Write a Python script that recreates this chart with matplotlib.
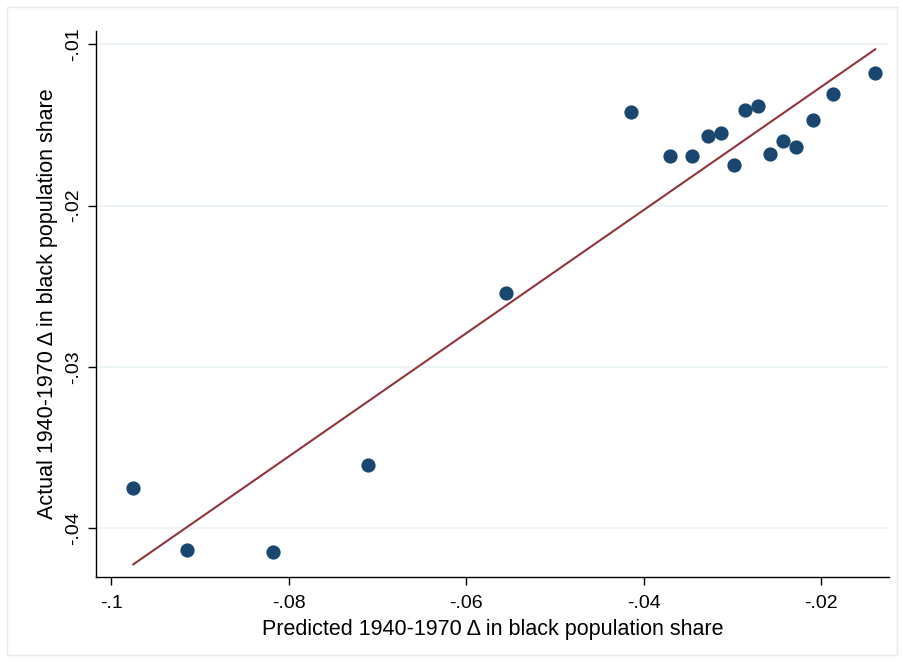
import numpy as np
import matplotlib
matplotlib.use("Agg")
import matplotlib.pyplot as plt
from matplotlib.patches import Rectangle

plt.rcParams['font.family'] = ['Liberation Sans', 'DejaVu Sans']

# predicted vs actual 1940-1970 change in black population share
predicted = [-0.0975, -0.0914, -0.0818, -0.0710, -0.0555, -0.0414, -0.0370, -0.0345,
             -0.0327, -0.0313, -0.0298, -0.0286, -0.0271, -0.0258, -0.0243, -0.0228,
             -0.0209, -0.0187, -0.0139]
actual = [-0.0375, -0.04135, -0.0415, -0.0361, -0.0254, -0.0142, -0.0169, -0.0169,
          -0.0157, -0.0155, -0.0175, -0.0141, -0.0138, -0.0168, -0.0160, -0.0164,
          -0.0147, -0.0131, -0.0118]

x_ticks = [-0.1, -0.08, -0.06, -0.04, -0.02]
x_labels = ["-.1", "-.08", "-.06", "-.04", "-.02"]
y_ticks = [-0.04, -0.03, -0.02, -0.01]
y_labels = ["-.04", "-.03", "-.02", "-.01"]

navy = "#1a476f"
maroon = "#90353b"

x = np.array(predicted)
y = np.array(actual)
slope, intercept = np.polyfit(x, y, 1)
xs = np.array([x.min(), x.max()])

fig = plt.figure(figsize=(9.04, 6.63), dpi=100)
ax = fig.add_axes([96/904, 1 - 576.7/663, (889 - 96)/904, (576.7 - 31)/663])

ax.scatter(x, y, s=105, color=navy, zorder=3, linewidths=0)
ax.plot(xs, intercept + slope * xs, color=maroon, lw=1.5, zorder=2)

ax.set_xlim(-0.1017, -0.01235)
ax.set_ylim(-0.0430, -0.00918)
ax.set_xticks(x_ticks)
ax.set_xticklabels(x_labels, fontsize=14)
ax.set_yticks(y_ticks)
ax.set_yticklabels(y_labels, fontsize=14, rotation=90, va="center")
ax.yaxis.grid(True, color="#eaf2f3", lw=1.2)
ax.set_axisbelow(True)
ax.tick_params(length=6, width=1, color="black")
ax.tick_params(axis="x", pad=7)
ax.tick_params(axis="y", pad=4)
for side in ["top", "right"]:
    ax.spines[side].set_visible(False)
ax.spines["left"].set_linewidth(1)
ax.spines["bottom"].set_linewidth(1)

ax.set_xlabel("Predicted 1940-1970 \u0394 in black population share", fontsize=15.5, labelpad=5)
ax.set_ylabel("Actual 1940-1970 \u0394 in black population share", fontsize=15.5, labelpad=5)

fig.patches.append(Rectangle((7/904, 8/663), 890/904, 648/663, transform=fig.transFigure,
                             fill=False, edgecolor="#e4ebee", lw=1))

fig.savefig("out.png", dpi=100)
